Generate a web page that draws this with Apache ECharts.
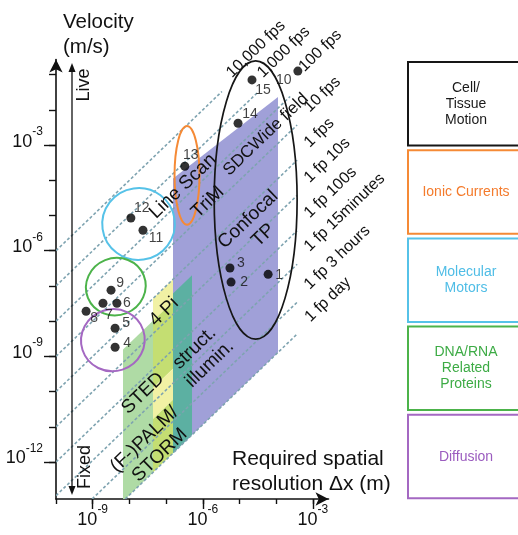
<!DOCTYPE html>
<html>
<head>
<meta charset="utf-8">
<title>Velocity vs required spatial resolution</title>
<script src="https://cdn.jsdelivr.net/npm/echarts@6.0.0/dist/echarts.min.js"></script>
<style>
html,body{margin:0;padding:0;background:#ffffff;}
#chart{width:518px;height:535px;}
</style>
</head>
<body>
<div id="chart"></div>
<script>
// ===== DATA (log10 units: x = log10(dx / m), y = log10(v / (m/s))) =====
const pointIds   = ['1','2','3','4','5','6','7','8','9','10','11','12','13','14','15'];
const pointLogDx = [-4.22,-5.23,-5.26,-8.39,-8.39,-8.34,-8.72,-9.18,-8.50,-3.41,-7.63,-7.96,-6.49,-5.04,-4.66];
const pointLogV  = [-6.67,-6.89,-6.49,-8.74,-8.20,-7.49,-7.49,-7.72,-7.12,-0.90,-5.42,-5.07,-3.60,-2.38,-1.15];

const fpsLabels       = ['10,000 fps','1,000 fps','100 fps','10 fps','1 fps','1 fp 10s','1 fp 100s','1 fp 15minutes','1 fp 3 hours','1 fp day'];
const framesPerSecond = [10000,1000,100,10,1,0.1,0.01,1/900,1/10800,1/86400];
const fpsLineEndLogDx = [-5.48,-4.50,-3.62,-3.43,-3.43,-3.43,-3.43,-3.43,-3.43,-3.43];
const fpsLabelLogDx   = [-5.155,-4.235,-3.085,-3.085,-3.085,-3.085,-3.085,-3.085,-3.085,-3.085];

const tickExponentsY  = [-12,-11,-10,-9,-8,-7,-6,-5,-4,-3,-2,-1];
const labelExponentsY = [-12,-9,-6,-3];
const tickExponentsX  = [-10,-9,-8,-7,-6,-5,-4,-3];
const labelExponentsX = [-9,-6,-3];

// process groups (ellipses + legend boxes)
const groupNames        = ['Cell/\nTissue\nMotion','Ionic Currents','Molecular\nMotors','DNA/RNA\nRelated\nProteins','Diffusion'];
const groupCenterLogDx  = [-4.56,-6.43,-7.75,-8.37,-8.45];
const groupCenterLogV   = [-4.56,-3.86,-5.24,-7.02,-8.54];
const groupHalfWidth    = [1.13,0.34,0.99,0.82,0.87];
const groupHalfHeight   = [3.95,1.40,1.02,0.81,0.88];

// imaging techniques (label anchors)
const techniqueNames = ['Line Scan','TriM','SDCWide field','Confocal\nTP','4 Pi','STED','struct.\nillumin.','(F-)PALM/\nSTORM'];
const techniqueLogDx = [-6.54,-5.86,-4.28,-4.56,-7.06,-7.63,-6.02,-7.38];
const techniqueLogV  = [-4.17,-4.62,-2.70,-5.34,-7.74,-10.05,-8.99,-11.58];
const techniqueFontSize = [19,19,17,19,19,19,19,19];

// technique coverage: resolution limits (x) and frame-rate limits (log10 fps)
const bandLeftLogDx    = [-8.174,-7.357,-7.357,-7.357,-7.357,-6.812];
const bandRightLogDx   = [-7.357,-6.812,-6.812,-6.812,-6.812,-6.294];
const bandTopLogFps    = [-0.63, 0.00,-0.63,-2.54,-3.42,-0.40];
const bandBottomLogFps = [-4.937,-0.63,-2.54,-3.42,-4.937,-4.937];
const wideFieldLogDx   = [-6.812,-3.951];
const wideFieldTopLogV = [-3.95,-1.636];

// ===== STYLE =====
const FONT = '"Liberation Sans", Arial, Helvetica, sans-serif';
const DEG = Math.PI / 180;
const X_MIN = -10, X_MAX = -2.575, Y_MIN = -13.05, Y_MAX = -0.57;
const groupColors = ['#161616','#f58a36','#56c2e8','#4cb34a','#a468c2'];
const groupTextColors = ['#1a1a1a','#f47b2c','#4fbde6','#3dab45','#9b5cbf'];
const groupTilt = [0,0,8,22,18];
const wideFieldColor = '#a0a0d8';
const bandColors = ['#afdba5','#f1f1a4','#c4de72','#f1f1a4','#c4de72','#5cb0a2'];
const pointLabelOffset = [[11,1],[13,0],[11,-5],[12,-4],[11,-5],[10,0],[6,12],[8,7],[9,-7],[-14,9],[13,8],[11,-10],[6,-11],[12,-9],[11,10]];
const fpsLabelLift = [-1,3,4,-3.5,-3.5,-3.5,-3.5,-3.5,-3.5,-4.5];

// ===== build polygons =====
const dayLogFps = Math.log10(framesPerSecond[framesPerSecond.length - 1]);
const regionPolys = [];
const regionFills = [];
regionPolys.push([
  [wideFieldLogDx[0], wideFieldTopLogV[0]],
  [wideFieldLogDx[1], wideFieldTopLogV[1]],
  [wideFieldLogDx[1], wideFieldLogDx[1] + dayLogFps],
  [wideFieldLogDx[0], wideFieldLogDx[0] + dayLogFps]
]);
regionFills.push(wideFieldColor);
for (let i = 0; i < bandLeftLogDx.length; i++) {
  const x0 = bandLeftLogDx[i], x1 = bandRightLogDx[i];
  const t = bandTopLogFps[i], b = bandBottomLogFps[i];
  regionPolys.push([[x0, x0 + t], [x1, x1 + t], [x1, x1 + b], [x0, x0 + b]]);
  regionFills.push(bandColors[i]);
}

function slopeAngle(api) {
  const a = api.coord([-8, -8]), b = api.coord([-4, -4]);
  return Math.atan2(a[1] - b[1], b[0] - a[0]);
}
const supFmt = v => '{b|10}{s|' + v + '}';
const supRich = {
  b: {fontSize: 18, lineHeight: 32, fontFamily: FONT, color: '#111'},
  s: {fontSize: 12, verticalAlign: 'top', fontFamily: FONT, color: '#111'}
};

const chart = echarts.init(document.getElementById('chart'));
const option = {
  backgroundColor: '#ffffff',
  animation: false,
  textStyle: {fontFamily: FONT},
  grid: {left: 56, top: 59.5, width: 272.5, height: 439.5, outerBoundsMode: 'none', containLabel: false},
  xAxis: [
    {type: 'value', min: X_MIN, max: X_MAX, position: 'bottom', splitLine: {show: false},
     axisLine: {show: true, onZero: false, lineStyle: {color: '#111', width: 1.6}, symbol: ['none', 'arrow'], symbolSize: [10, 13]},
     axisTick: {show: true, customValues: tickExponentsX, length: 5, lineStyle: {color: '#111', width: 1.4}},
     axisLabel: {show: false}},
    {type: 'value', min: X_MIN, max: X_MAX, position: 'bottom', splitLine: {show: false},
     axisLine: {show: false, onZero: false},
     axisTick: {show: true, customValues: labelExponentsX, length: 10, lineStyle: {color: '#111', width: 1.4}},
     axisLabel: {show: true, customValues: labelExponentsX, formatter: supFmt, rich: supRich, margin: 5}}
  ],
  yAxis: [
    {type: 'value', min: Y_MIN, max: Y_MAX, position: 'left', splitLine: {show: false},
     axisLine: {show: true, onZero: false, lineStyle: {color: '#111', width: 1.6}, symbol: ['none', 'arrow'], symbolSize: [10, 13]},
     axisTick: {show: true, customValues: tickExponentsY, length: 7, lineStyle: {color: '#111', width: 1.4}},
     axisLabel: {show: false}},
    {type: 'value', min: Y_MIN, max: Y_MAX, position: 'left', splitLine: {show: false},
     axisLine: {show: false, onZero: false},
     axisTick: {show: true, customValues: labelExponentsY, length: 12, lineStyle: {color: '#111', width: 1.4}},
     axisLabel: {show: true, customValues: labelExponentsY, formatter: supFmt, rich: supRich, margin: 13, padding: [0, 0, 7, 0]}}
  ],
  graphic: [
    {type: 'text', left: 63, top: 10, z: 10, style: {text: 'Velocity\n(m/s)', fontSize: 20.5, fontFamily: FONT, lineHeight: 25, fill: '#111'}},
    {type: 'text', left: 232, top: 446, z: 10, style: {text: 'Required spatial\nresolution \u0394x (m)', fontSize: 21, fontFamily: FONT, lineHeight: 25.5, fill: '#111'}},
    {type: 'line', z: 10, shape: {x1: 72, y1: 70, x2: 72, y2: 489}, style: {stroke: '#111', lineWidth: 1.3}},
    {type: 'polygon', z: 10, shape: {points: [[72, 63], [68.5, 72], [75.5, 72]]}, style: {fill: '#111'}},
    {type: 'polygon', z: 10, shape: {points: [[72, 495], [68.5, 486], [75.5, 486]]}, style: {fill: '#111'}},
    {type: 'text', x: 84, y: 85, rotation: Math.PI / 2, z: 10, style: {text: 'Live', fontSize: 18, fontFamily: FONT, fill: '#111', align: 'center', verticalAlign: 'middle'}},
    {type: 'text', x: 85, y: 467, rotation: Math.PI / 2, z: 10, style: {text: 'Fixed', fontSize: 18, fontFamily: FONT, fill: '#111', align: 'center', verticalAlign: 'middle'}}
  ].concat(groupNames.map((name, i) => ({
    type: 'group', z: 10, children: [
      {type: 'rect', shape: {x: 408, y: 62 + i * 88.2, width: 118, height: 83.5}, style: {fill: '#fff', stroke: groupColors[i], lineWidth: 2}},
      {type: 'text', x: 466, y: 62 + i * 88.2 + 42, style: {text: name, fontSize: 14, fontFamily: FONT, lineHeight: 16, fill: groupTextColors[i], align: 'center', verticalAlign: 'middle'}}
    ]}))),
  series: [
    {type: 'custom', name: 'techniques', coordinateSystem: 'cartesian2d', clip: true, silent: true, z: 1,
     data: regionPolys.map(p => p[0]),
     renderItem: (params, api) => {
       const poly = regionPolys[params.dataIndex];
       return {type: 'polygon', shape: {points: poly.map(p => api.coord(p))}, style: {fill: regionFills[params.dataIndex]}};
     }},
    {type: 'custom', name: 'frame rates', coordinateSystem: 'cartesian2d', clip: true, silent: true, z: 2,
     data: framesPerSecond.map((f, i) => [fpsLineEndLogDx[i], fpsLineEndLogDx[i] + Math.log10(f)]),
     renderItem: (params, api) => {
       const i = params.dataIndex;
       const c = Math.log10(framesPerSecond[i]);
       let x0 = X_MIN;
       if (x0 + c < Y_MIN) x0 = Y_MIN - c;
       const x1 = fpsLineEndLogDx[i];
       const p0 = api.coord([x0, x0 + c]), p1 = api.coord([x1, x1 + c]);
       return {type: 'line', shape: {x1: p0[0], y1: p0[1], x2: p1[0], y2: p1[1]},
               style: {stroke: '#7ea3b0', lineWidth: 1.6, lineDash: [3, 2.2]}};
     }},
    {type: 'custom', name: 'frame rate labels', coordinateSystem: 'cartesian2d', clip: false, silent: true, z: 4,
     data: framesPerSecond.map((f, i) => [fpsLabelLogDx[i], fpsLabelLogDx[i] + Math.log10(f)]),
     renderItem: (params, api) => {
       const i = params.dataIndex;
       const c = Math.log10(framesPerSecond[i]);
       const lx = fpsLabelLogDx[i];
       const p = api.coord([lx, lx + c]);
       const a = slopeAngle(api);
       const lift = fpsLabelLift[i];
       return {type: 'text', x: p[0] - Math.sin(a) * lift, y: p[1] - Math.cos(a) * lift, rotation: a,
               style: {text: fpsLabels[i], fontSize: 16, fontFamily: FONT, fill: '#111', align: 'left', verticalAlign: 'bottom'}};
     }},
    {type: 'custom', name: 'groups', coordinateSystem: 'cartesian2d', clip: false, silent: true, z: 3,
     data: groupNames.map((n, i) => [groupCenterLogDx[i], groupCenterLogV[i]]),
     renderItem: (params, api) => {
       const i = params.dataIndex;
       const c = api.coord([groupCenterLogDx[i], groupCenterLogV[i]]);
       const s = api.size([groupHalfWidth[i], groupHalfHeight[i]]);
       return {type: 'ellipse', x: c[0], y: c[1], rotation: groupTilt[i] * DEG,
               shape: {cx: 0, cy: 0, rx: s[0], ry: s[1]},
               style: {fill: 'none', stroke: groupColors[i], lineWidth: i === 0 ? 1.7 : 2}};
     }},
    {type: 'custom', name: 'technique labels', coordinateSystem: 'cartesian2d', clip: false, silent: true, z: 4,
     data: techniqueNames.map((n, i) => [techniqueLogDx[i], techniqueLogV[i]]),
     renderItem: (params, api) => {
       const i = params.dataIndex;
       const p = api.coord([techniqueLogDx[i], techniqueLogV[i]]);
       return {type: 'text', x: p[0], y: p[1], rotation: slopeAngle(api),
               style: {text: techniqueNames[i], fontSize: techniqueFontSize[i], fontFamily: FONT, fill: '#111', align: 'center', verticalAlign: 'middle', lineHeight: 22}};
     }},
    {type: 'scatter', name: 'studies', z: 5, symbol: 'circle', symbolSize: 9, silent: true,
     itemStyle: {color: '#000'},
     label: {show: true, position: 'inside', formatter: '{b}', fontSize: 14, fontFamily: FONT, color: '#111'},
     data: pointIds.map((id, i) => ({name: id, value: [pointLogDx[i], pointLogV[i]], label: {offset: pointLabelOffset[i]}}))}
  ]
};
chart.setOption(option);
</script>
</body>
</html>
